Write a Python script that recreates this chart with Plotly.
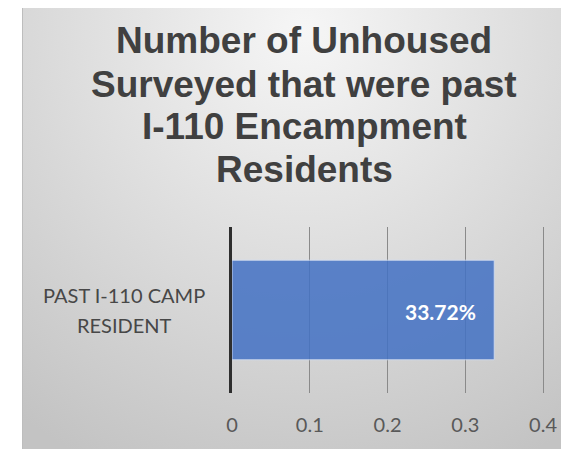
import base64
import plotly.graph_objects as go

# ---- data ----
categories = ["PAST I-110 CAMP RESIDENT"]
values = [0.3372]
category_lines = ["PAST I-110 CAMP", "RESIDENT"]
tick_vals = [0, 0.1, 0.2, 0.3, 0.4]
tick_text = ["0", "0.1", "0.2", "0.3", "0.4"]
title_lines = ["Number of Unhoused", "Surveyed that were past",
               "I-110 Encampment", "Residents"]

# ---- geometry (window pixels) ----
W, H = 569, 457            # browser window
OFF = 8                    # default page body margin
FW, FH = W - 2 * OFF, H - 2 * OFF   # figure size (no page overflow)
PL, PR, PT, PB = 232, 545, 227, 393   # plot area edges (window coords)
pw, ph = PR - PL, PB - PT
X_MAX = 0.4025


def px_x(x):
    return (x - PL) / pw


def px_y(y):
    return (PB - y) / ph


svg = f"""<svg xmlns='http://www.w3.org/2000/svg' width='{FW}' height='{FH}' viewBox='{OFF} {OFF} {FW} {FH}'>
<defs>
<radialGradient id='g' gradientUnits='userSpaceOnUse' cx='304' cy='30' r='480'>
<stop offset='0' stop-color='#f6f6f6'/><stop offset='1' stop-color='#c3c3c3'/>
</radialGradient>
</defs>
<rect x='0' y='0' width='{W}' height='{H}' fill='#ffffff'/>
<rect x='22.5' y='1.5' width='580' height='454.5' fill='url(#g)' stroke='#bdbdbd' stroke-width='1'/>
</svg>"""
bg_src = "data:image/svg+xml;base64," + base64.b64encode(svg.encode()).decode()

fig = go.Figure()
fig.add_trace(go.Bar(
    x=values, y=categories, orientation="h", width=0.6,
    marker=dict(color="#4472c4", opacity=0.86,
                line=dict(color="rgba(210,222,245,0.9)", width=1)),
    hoverinfo="skip",
))

annotations = []
# title lines
title_baselines = [54, 97, 139, 182]
for line, base in zip(title_lines, title_baselines):
    annotations.append(dict(
        text=f"<b>{line}</b>", xref="paper", yref="paper",
        x=px_x(304), y=px_y(base - 13), xanchor="center", yanchor="middle",
        showarrow=False,
        font=dict(family="Liberation Sans, Arial", size=37, color="#404040"),
    ))

# category label (two lines, centered)
for line, shift in zip(category_lines, [15.5, -14.5]):
    annotations.append(dict(
        text=line, xref="paper", yref="y", x=px_x(124), y=categories[0],
        yshift=shift, xanchor="center", yanchor="middle", showarrow=False,
        font=dict(family="Lato", size=20, color="#474747"),
    ))

# value label
for c, v in zip(categories, values):
    annotations.append(dict(
        text=f"<b>{v * 100:.2f}%</b>", xref="x", yref="y", x=v, y=c,
        xanchor="right", yanchor="middle", xshift=-16, yshift=-1,
        showarrow=False,
        font=dict(family="Lato", size=21, color="#ffffff"),
    ))

fig.update_layout(
    width=FW, height=FH,
    margin=dict(l=PL - OFF, r=FW - (PR - OFF), t=PT - OFF, b=FH - (PB - OFF),
                pad=0, autoexpand=False),
    paper_bgcolor="#ffffff", plot_bgcolor="rgba(0,0,0,0)",
    showlegend=False,
    annotations=annotations,
    images=[dict(source=bg_src, xref="paper", yref="paper",
                 x=px_x(OFF), y=px_y(OFF), sizex=FW / pw, sizey=FH / ph,
                 xanchor="left", yanchor="top", sizing="stretch",
                 layer="below")],
    xaxis=dict(range=[0, X_MAX], tickvals=tick_vals, ticktext=tick_text,
               showgrid=True, gridcolor="#8a8a8a", gridwidth=1,
               zeroline=False, showline=False, ticks="", automargin=False,
               ticklabelstandoff=18,
               tickfont=dict(family="Lato", size=20, color="#595959")),
    yaxis=dict(type="category", range=[-0.5, 0.5], showticklabels=False,
               showgrid=False, zeroline=False, showline=True, automargin=False,
               linecolor="#2e2e2e", linewidth=3, ticks=""),
)

fig.write_html("out.html")
